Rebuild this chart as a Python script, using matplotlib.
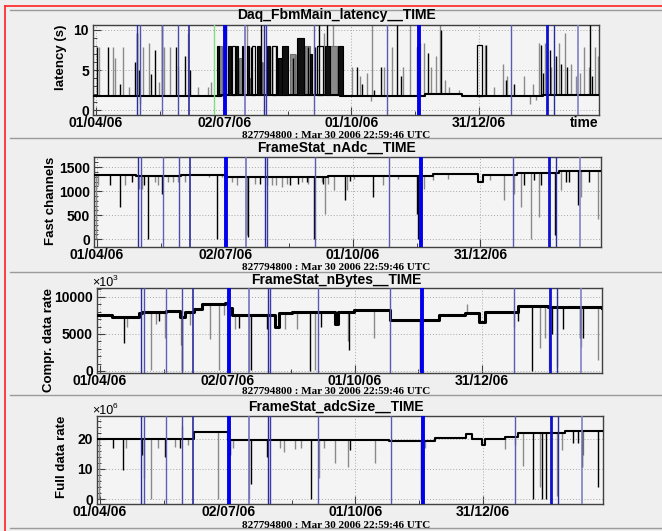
import numpy as np
import pandas as pd
import matplotlib
matplotlib.use('Agg')
import matplotlib.pyplot as plt
from matplotlib.lines import Line2D

plt.rcParams['font.family'] = ['Liberation Sans', 'DejaVu Sans']

# ---- data (days since 01/04/2006) ----
T0 = pd.Timestamp('2006-04-01')
tick_dates = ['2006-04-01', '2006-07-02', '2006-10-01', '2006-12-31']
tick_labels = ['01/04/06', '02/07/06', '01/10/06', '31/12/06']
offset_text = '827794800 : Mar 30 2006 22:59:46 UTC'
XMIN, XMAX = -1.8, 360.2

# run markers (vertical lines), same on every panel
mark_day = [29.7, 31.8, 47.6, 59.0, 66.9, 92.7, 107.0, 120.5, 122.0, 156.3,
            208.5, 231.4, 297.2, 323.0, 328.0, 345.2]
mark_col = ['#2a2a9a', '#5050b0', '#6060b8', '#4a4aa8', '#2a2a9a', '#0000ee',
            '#7070c0', '#2a2a9a', '#3a3aa8', '#5a5ab0', '#5a5ab0', '#0000ee',
            '#5a5ab0', '#1010d0', '#2a2a9a', '#8080c8']
mark_lw = [1, 1, 1, 1, 1.2, 2.8, 1.2, 1, 1, 1, 1, 2.8, 1, 2, 1, 1.2]
green_day = 84.8

# panel 1: latency
lat_base_day = [-1.8, 90, 175, 236, 262, 320, 360.2]
lat_base_val = [1.75, 1.95, 1.75, 2.0, 1.8, 1.9, 1.9]
lat_blk_day = [0.9, 9.2, 17.5, 28.3, 29.9, 31.3, 39.5, 42.6, 47.3, 57.4, 64.0, 67.6,
               91.9, 93.6, 111.0, 118.4, 126.0, 136.8, 141.5, 152.2, 157.0, 160.1,
               165.4, 186.8, 190.6, 199.0, 204.2, 215.4, 218.5, 237.6, 247.1,
               279.6, 293.6, 299.6, 318.7, 320.1, 324.9, 329.6, 333.0, 337.3, 354.0, 355.1]
lat_blk_val = [7.9, 7.9, 3.3, 6.0, 9.6, 5.0, 4.5, 7.5, 10.6, 7.9, 6.7, 5.0,
               5.0, 10.6, 7.9, 10.6, 7.9, 6.0, 6.5, 7.9, 7.9, 10.6,
               10.6, 5.4, 3.3, 2.5, 5.4, 10.6, 4.2, 7.1, 10.0,
               8.1, 3.75, 3.3, 8.1, 4.6, 7.5, 6.7, 5.8, 5.4, 10.6, 4.2]
lat_gry_day = [2.7, 12.3, 13.9, 19.9, 24.2, 31.8, 34.2, 38.3, 45.6, 49.0, 53.3, 59.2,
               66.4, 73.6, 80.7, 82.4, 108.2, 120.0, 143.4, 163.5, 169.7,
               183.2, 189.2, 194.0, 197.0, 197.6, 206.1, 211.9, 220.0, 225.0, 232.1,
               234.8, 240.0, 243.6, 246.2, 250.0, 253.1, 260.2, 278.6, 285.3, 291.3,
               294.4, 306.3, 311.0, 312.7, 315.0, 317.5, 321.5, 325.8, 331.3, 336.1,
               340.1, 343.7, 346.3, 349.6, 352.8, 357.5, 359.2]
lat_gry_val = [7.9, 7.9, 6.5, 7.9, 2.9, 0.8, 7.9, 8.3, 3.5, 7.9, 7.9, 5.5,
               9.6, 2.9, 2.9, 3.5, 10.6, 6.0, 7.0, 9.6, 10.6,
               5.4, 4.2, 4.6, 1.2, 10.6, 5.4, 7.9, 5.4, 10.6, 8.3,
               8.3, 5.4, 6.7, 10.6, 3.75, 2.9, 2.5, 8.1, 2.9, 5.8,
               4.2, 4.2, 0.8, 3.3, 1.3, 8.3, 8.3, 5.4, 8.3, 9.6,
               5.8, 4.2, 4.6, 7.9, 5.4, 7.9, 6.7]
# latency pulses: start day, end day, level, style (k filled black, g filled grey, o outline)
lat_pul_start = [86.7, 88.5, 95.0, 97.4, 100.5, 102.9, 104.6, 108.1, 110.5, 111.7,
                 115.3, 117.7, 122.5, 126.0, 128.8, 130.8, 133.2, 139.1, 144.4, 149.9,
                 153.4, 158.2, 164.2, 167.7, 173.7, 229.7, 272.9]
lat_pul_end = [88.0, 90.3, 96.7, 99.8, 102.2, 104.6, 105.5, 110.0, 111.7, 114.1,
               117.7, 119.0, 124.8, 128.8, 129.6, 133.2, 137.9, 142.7, 149.1, 153.4,
               155.0, 163.0, 167.7, 172.5, 177.3, 230.9, 276.2]
lat_pul_val = [8.0, 8.0, 8.0, 8.0, 8.0, 6.5, 8.0, 8.0, 4.0, 8.0,
               8.0, 6.0, 8.0, 8.0, 8.0, 6.5, 8.0, 7.0, 9.0, 8.0,
               7.0, 8.0, 8.0, 8.0, 8.0, 7.9, 8.1]
lat_pul_style = ['k', 'g', 'k', 'o', 'k', 'g', 'k', 'k', 'g', 'o',
                 'k', 'g', 'k', 'o', 'k', 'k', 'k', 'g', 'k', 'g',
                 'k', 'o', 'k', 'g', 'k', 'o', 'o']

# panel 2: fast channels
adc_base_day = [-1.8, 28, 60, 92, 165, 240, 272.2, 275.7, 300, 330, 360.2]
adc_base_val = [1330, 1320, 1330, 1300, 1310, 1350, 1190, 1340, 1380, 1410, 1410]
adc_blk_day = [9.6, 16.8, 25.1, 33.9, 37.0, 46.5, 85.8, 108.4, 116.7, 138.2, 144.1,
               150.1, 155.5, 161.9, 177.4, 181.0, 197.2, 228.8, 229.8, 305.4, 312.6,
               317.4, 323.3, 327.4, 335.2, 337.6, 344.0, 351.9]
adc_blk_val = [1135, 674, 1190, 1135, 0, 950, 0, 55, 1150, 1120, 1150,
               1190, 0, 1150, 812, 1220, 880, 536, 0, 1120, 1230,
               1120, 1120, 90, 1190, 1190, 710, 1190]
adc_gry_day = [-0.4, 0.9, 20.3, 30.6, 32.3, 41.8, 44.1, 51.3, 54.4, 58.4, 63.2, 80.5,
               89.4, 96.5, 100.5, 107.7, 113.2, 121.5, 125.1, 128.2, 132.2, 135.8,
               146.5, 151.2, 160.8, 163.2, 165.5, 169.8, 178.9, 184.1, 204.3, 215.1,
               234.0, 240.0, 250.7, 281.2, 291.2, 298.3, 303.1, 310.2, 316.2, 331.7,
               346.0, 357.9]
adc_gry_val = [0, 1120, 1120, 1050, 1050, 1190, 1120, 1190, 1190, 1190, 1190, 1290,
               1290, 1190, 1120, 90, 1150, 1120, 1120, 1120, 1090, 1150,
               1190, 1150, 1190, 530, 1150, 1020, 1020, 1260, 1120, 1260,
               1050, 1230, 1260, 1230, 812, 950, 674, 0, 470, 1020,
               880, 430]

# panel 3: compressed data rate (x10^3)
nby_base_day = [-1.8, 9, 24.8, 28.3, 30.7, 47.4, 58, 61, 64, 67.6, 73.5, 83, 90.2,
                92.1, 95, 111.5, 125.8, 128.5, 137.8, 167, 169, 171, 182.6, 208,
                243.3, 262.3, 271.8, 276.5, 295.6, 300.3, 321.7, 360.2]
nby_base_val = [7530, 7300, 7300, 7850, 7980, 8100, 7300, 8000, 8000, 8300, 9100, 9100,
                9200, 8500, 7500, 7600, 5960, 7760, 7900, 7980, 6400, 7980, 8200, 6860,
                7500, 7760, 6640, 7980, 7980, 8740, 8600, 8500]
nby_blk_day = [17.6, 42.6, 58.8, 100.0, 108.7, 120.0, 150.9, 159.0, 179.0, 229.4,
               300.3, 309.9, 324.1, 332.5, 344.4, 346.8]
nby_blk_val = [3720, 6700, 0, 5800, 130, 5700, 0, 6000, 2830, 0,
               6700, 0, 5000, 5600, 4400, 4500]
nby_gry_day = [20.0, 36.6, 40.2, 47.3, 58.3, 65.2, 79.5, 85.5, 89.0, 97.3, 107.3,
               133.0, 141.4, 154.4, 177.8, 196.8, 230.8, 263.5, 296.8, 315.8, 319.4,
               322.2, 327.7, 345.1, 357.5]
nby_gry_val = [6000, 130, 6400, 4500, 3500, 6200, 4300, 130, 7500, 5600, 0,
               5600, 5700, 130, 4000, 4500, 1000, 9000, 5970, 3050, 4500,
               130, 580, 3250, 1480]

# panel 4: full data rate (x10^6)
adc2_base_day = [-1.8, 30, 67.5, 92, 206.8, 240.1, 262, 266.5, 273.5, 275.8, 290,
                 299.7, 333, 360.2]
adc2_base_val = [20.0, 19.8, 22.2, 19.5, 19.2, 20.3, 21.5, 20.0, 18.0, 19.8, 20.6,
                 22.0, 22.5, 22.5]
adc2_blk_day = [9.8, 16.9, 30.5, 46.6, 57.8, 93.0, 108.5, 119.7, 151.4, 179.4,
                230.1, 310.4, 316.8, 319.2, 338.9, 342.0, 344.9, 356.8]
adc2_blk_val = [17.0, 9.7, 14.5, 14.0, 17.0, 14.5, 5.0, 14.0, 0, 16.3,
                0, 0, 0, 0, 18.5, 18.5, 10.7, 4.0]
adc2_gry_day = [-0.5, 19.3, 31.9, 37.1, 41.9, 53.8, 59.3, 63.3, 84.7, 95.5, 107.3,
                129.0, 132.3, 139.7, 144.5, 157.3, 160.9, 168.7, 177.8, 197.3, 233.0,
                290.1, 297.2, 303.2, 315.1, 327.0, 330.6, 345.6]
adc2_gry_val = [0, 17.0, 7.0, 0, 17.0, 17.3, 24.2, 17.8, 0, 17.0, 0,
                17.0, 15.5, 16.5, 17.0, 7.0, 17.0, 11.8, 10.7, 11.8, 17.0,
                16.5, 17.8, 11.0, 4.0, 1.0, 16.3, 14.7]

panels = [
    dict(title='Daq_FbmMain_latency__TIME', ylabel='latency (s)',
         base=(lat_base_day, lat_base_val), blk=(lat_blk_day, lat_blk_val),
         gry=(lat_gry_day, lat_gry_val),
         pulses=(lat_pul_start, lat_pul_end, lat_pul_val, lat_pul_style),
         ylim=(-0.6, 10.6), yticks=[0, 5, 10], minor=1, mult=None, base_lw=1.5,
         box=(93, 25, 599, 115), title_y=15, off_y=135, lab_x=67),
    dict(title='FrameStat_nAdc__TIME', ylabel='Fast channels',
         base=(adc_base_day, adc_base_val), blk=(adc_blk_day, adc_blk_val),
         gry=(adc_gry_day, adc_gry_val), pulses=None,
         ylim=(-160, 1710), yticks=[0, 500, 1000, 1500], minor=100, mult=None, base_lw=1.5,
         box=(94, 157, 601, 247), title_y=148, off_y=268, lab_x=57),
    dict(title='FrameStat_nBytes__TIME', ylabel='Compr. data rate',
         base=(nby_base_day, nby_base_val), blk=(nby_blk_day, nby_blk_val),
         gry=(nby_gry_day, nby_gry_val), pulses=None,
         ylim=(-270, 11200), yticks=[0, 5000, 10000], minor=1000, mult='3', base_lw=2.2,
         box=(97, 288, 602, 373), title_y=280, off_y=392, lab_x=55),
    dict(title='FrameStat_adcSize__TIME', ylabel='Full data rate',
         base=(adc2_base_day, adc2_base_val), blk=(adc2_blk_day, adc2_blk_val),
         gry=(adc2_gry_day, adc2_gry_val), pulses=None,
         ylim=(-1.6, 27.5), yticks=[0, 10, 20], minor=2, mult='6', base_lw=1.5,
         box=(97, 416, 603, 504), title_y=407, off_y=525, lab_x=68),
]

W, H = 662, 531
BG = '#efefef'
fig = plt.figure(figsize=(W / 100, H / 100), dpi=100, facecolor=BG)

tick_days = [(pd.Timestamp(d) - T0).days for d in tick_dates]
minor_days = [(a + b) / 2 for a, b in zip(tick_days[:-1], tick_days[1:])]


def base_at(bd, bv, days):
    idx = np.searchsorted(bd, days, side='right') - 1
    idx = np.clip(idx, 0, len(bv) - 1)
    return np.asarray(bv)[idx]


# pad borders
for yy in [10, 138, 272, 395, 528]:
    fig.add_artist(Line2D([10 / W, 1], [1 - yy / H] * 2, color='#9a9a9a', lw=1.0))
fig.add_artist(Line2D([4.5 / W, 1], [1 - 5.5 / H] * 2, color='#ff3030', lw=1.3))
fig.add_artist(Line2D([4.5 / W] * 2, [0, 1 - 5.5 / H], color='#ff3030', lw=1.3))

for i, p in enumerate(panels):
    x0, y0, x1, y1 = p['box']
    ax = fig.add_axes([x0 / W, 1 - y1 / H, (x1 - x0) / W, (y1 - y0) / H])
    ax.set_facecolor('#f4f4f4')
    ax.set_xlim(XMIN, XMAX)
    ax.set_ylim(*p['ylim'])

    ax.grid(True, ls=(0, (1, 2)), color='#a8a8a8', lw=0.7)
    ax.set_axisbelow(True)

    bd, bv = p['base']
    ax.plot(bd, bv, drawstyle='steps-post', color='black', lw=p['base_lw'], zorder=3)
    gd, gv = p['gry']
    ax.vlines(gd, base_at(bd, bv, gd), gv, color='#8a8a8a', lw=1.0, zorder=2)
    kd, kv = p['blk']
    ax.vlines(kd, base_at(bd, bv, kd), kv, color='black', lw=1.0, zorder=3)
    if p['pulses'] is not None:
        ps, pe, pv, pst = p['pulses']
        ps, pe, pv = np.asarray(ps), np.asarray(pe), np.asarray(pv)
        pb = base_at(bd, bv, ps)
        for s, e, v, b, st in zip(ps, pe, pv, pb, pst):
            if st == 'k':
                ax.bar(s, v - b, width=e - s, bottom=b, align='edge', color='#101010',
                       edgecolor='black', lw=0.8, zorder=3)
            elif st == 'g':
                ax.bar(s, v - b, width=e - s, bottom=b, align='edge', color='#8a8a8a',
                       edgecolor='#707070', lw=0.8, zorder=2)
            else:
                ax.bar(s, v - b, width=e - s, bottom=b, align='edge', color='none',
                       edgecolor='black', lw=0.9, zorder=3)

    for d, c, lw in zip(mark_day, mark_col, mark_lw):
        ax.axvline(d, color=c, lw=lw, zorder=4)
    if i == 0:
        ax.axvline(green_day, color='#80e080', lw=1.0, zorder=4)

    ax.set_xticks(tick_days, tick_labels, fontweight='bold', fontsize=10)
    ax.set_xticks(minor_days, minor=True)
    ax.set_yticks(p['yticks'], [str(v) for v in p['yticks']], fontweight='bold', fontsize=10)
    ax.set_yticks(np.arange(0, p['ylim'][1], p['minor']), minor=True)
    ax.tick_params(axis='both', which='major', direction='in', length=6, width=0.8,
                   color='#404040', pad=1)
    ax.tick_params(axis='both', which='minor', direction='in', length=3, width=0.7,
                   color='#404040')
    ax.tick_params(axis='y', pad=3)
    ax.grid(False, which='minor')
    for sp in ax.spines.values():
        sp.set_color('#404040')
        sp.set_linewidth(1.0)

    ax.set_ylabel(p['ylabel'], loc='top', fontweight='bold', fontsize=9.5)
    ax.yaxis.set_label_coords((p['lab_x'] - x0) / (x1 - x0), 1.0)

    fig.text(336 / W, 1 - p['title_y'] / H, p['title'], ha='center', va='center',
             fontweight='bold', fontsize=10)
    fig.text(336 / W, 1 - p['off_y'] / H, offset_text, ha='center', va='center',
             fontweight='bold', fontsize=8, family=['Liberation Serif', 'DejaVu Serif'])
    if i == 0:
        ax.annotate('time', xy=(1, 0), xycoords='axes fraction', xytext=(0, -1),
                    textcoords='offset points', ha='right', va='top',
                    fontweight='bold', fontsize=10)
    if p['mult'] is not None:
        fig.text(92 / W, 1 - (y0 - 5) / H, '\u00d710', ha='left', va='center', fontsize=9)
        fig.text(113 / W, 1 - (y0 - 10) / H, p['mult'], ha='left', va='center', fontsize=6)

fig.savefig('out.png', dpi=100, facecolor=BG)
